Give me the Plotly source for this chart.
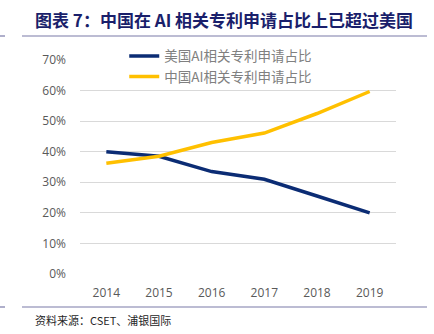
import plotly.graph_objects as go

years = ["2014", "2015", "2016", "2017", "2018", "2019"]
us_share = [0.40, 0.385, 0.335, 0.31, 0.255, 0.20]
cn_share = [0.362, 0.385, 0.43, 0.461, 0.525, 0.597]
us_name = "美国AI相关专利申请占比"
cn_name = "中国AI相关专利申请占比"
title_text = "图表 7：中国在 AI 相关专利申请占比上已超过美国"
source_text = "资料来源：CSET、浦银国际"
y_ticks = [0, 0.1, 0.2, 0.3, 0.4, 0.5, 0.6, 0.7]

fig = go.Figure()
fig.add_trace(go.Scatter(x=years, y=us_share, name=us_name, mode="lines",
                         line=dict(color="#0B2C74", width=3.5)))
fig.add_trace(go.Scatter(x=years, y=cn_share, name=cn_name, mode="lines",
                         line=dict(color="#FFC000", width=3.5)))

font_cjk = "Noto Sans CJK SC"
fig.update_layout(
    width=434, height=334,
    margin=dict(l=80, r=38, t=60, b=60),
    paper_bgcolor="white", plot_bgcolor="white",
    showlegend=True,
    legend=dict(x=0.14, y=1.09, xanchor="left", yanchor="top",
                bgcolor="rgba(0,0,0,0)", itemwidth=30, tracegroupgap=0,
                font=dict(family=font_cjk, size=13.5, color="#808080")),
    xaxis=dict(type="category", range=[-0.5, 5.5], showgrid=False, showline=False,
               ticks="", ticklabelstandoff=10,
               tickfont=dict(family="Open Sans", size=12, color="#595959")),
    yaxis=dict(range=[0, 0.7], tickvals=y_ticks, tickformat=".0%",
               showgrid=True, gridcolor="#D9D9D9", gridwidth=1, zeroline=False,
               showline=False, ticks="", ticklabelstandoff=13,
               tickfont=dict(family="Open Sans", size=12, color="#595959")),
)

fig.add_annotation(text=title_text, xref="paper", yref="paper", x=(33 - 80) / 316,
                   y=(274 - 20) / 214,
                   xanchor="left", yanchor="middle", showarrow=False,
                   font=dict(family=font_cjk, size=17, color="#1A1F6B", weight="bold"))
fig.add_annotation(text=source_text, xref="paper", yref="paper", x=(33 - 80) / 316,
                   y=(274 - 320) / 214,
                   xanchor="left", yanchor="middle", showarrow=False,
                   font=dict(family=font_cjk, size=11, color="#262626"))

for yy in [36, 307]:
    fig.add_shape(type="line", xref="paper", yref="paper",
                  x0=(22 - 80) / 316, x1=(427 - 80) / 316,
                  y0=(274 - yy) / 214, y1=(274 - yy) / 214,
                  line=dict(color="#7A7AA8", width=1.2))
    fig.add_shape(type="line", xref="paper", yref="paper",
                  x0=(0 - 80) / 316, x1=(5 - 80) / 316,
                  y0=(274 - yy) / 214, y1=(274 - yy) / 214,
                  line=dict(color="#7A7AA8", width=1.2))

fig.write_html("out.html")
